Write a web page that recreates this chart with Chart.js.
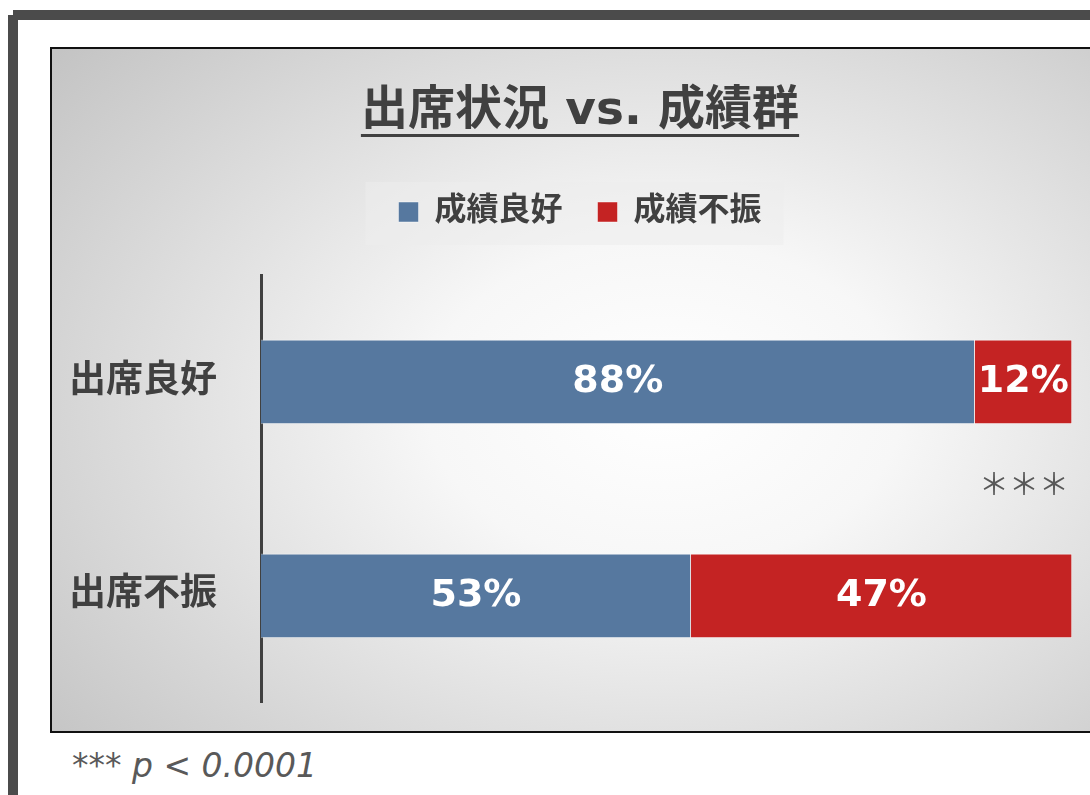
<!DOCTYPE html>
<html>
<head>
<meta charset="utf-8">
<script src="https://cdn.jsdelivr.net/npm/chart.js@4.4.0/dist/chart.umd.min.js"></script>
<style>
  html, body { margin: 0; padding: 0; background: #fff; width: 1090px; height: 795px; overflow: hidden; }
  .frameTop { position: absolute; left: 13px; top: 10px; width: 1100px; height: 10px; background: #4b4b4b; }
  .frameLeft { position: absolute; left: 8px; top: 15px; width: 10px; height: 800px; background: #4b4b4b; }
  #chartBox {
    position: absolute; left: 50px; top: 47px; width: 1056px; height: 682px;
    border: 2px solid #111;
    background: radial-gradient(ellipse 75% 80% at 58% 52%, #ffffff 0%, #f7f7f7 30%, #c4c4c4 100%);
  }
  #chartBox canvas { position: absolute; left: 0; top: 0; }
  .note {
    position: absolute; left: 72px; top: 746px; line-height: 40px;
    font-family: 'DejaVu Sans', sans-serif; font-style: italic; font-size: 33px; color: #595959;
  }
</style>
</head>
<body>
<div class="frameTop"></div>
<div class="frameLeft"></div>
<div id="chartBox"><canvas id="attendChart" width="1056" height="682"></canvas></div>
<div class="note">*** p &lt; 0.0001</div>
<script>
const categories = ['出席良好', '出席不振'];
const seriesNames = ['成績良好', '成績不振'];
const goodGrades = [88, 53];
const poorGrades = [12, 47];
const significance = '＊＊＊';

const textColor = '#404040';
const cjk = "'DejaVu Sans', 'Noto Sans CJK JP', sans-serif";

// underline under the title
const titleUnderline = {
  id: 'titleUnderline',
  afterDraw(chart) {
    const t = chart.titleBlock;
    const ctx = chart.ctx;
    ctx.save();
    ctx.font = 'bold 47px ' + cjk;
    const w = ctx.measureText(chart.options.plugins.title.text).width;
    const cx = (t.left + t.right) / 2;
    ctx.fillStyle = textColor;
    ctx.fillRect(cx - w / 2, 85, w, 3);
    ctx.restore();
  }
};

// pale box behind legend + extra gap under it
const legendBox = {
  id: 'legendBox',
  beforeInit(chart) {
    const fit = chart.legend.fit;
    chart.legend.fit = function () {
      fit.bind(chart.legend)();
      this.height += 37;
    };
  },
  beforeDraw(chart) {
    const hb = chart.legend.legendHitBoxes;
    if (!hb || !hb.length) return;
    const last = hb[hb.length - 1];
    const left = hb[0].left - 33;
    const right = last.left + last.width + 22;
    const top = hb[0].top + 16 - 30;
    const ctx = chart.ctx;
    ctx.save();
    ctx.fillStyle = 'rgba(236,236,236,0.55)';
    ctx.fillRect(left, top, right - left, 63);
    ctx.restore();
  }
};

// percentage labels inside bars and the *** marker
const barLabels = {
  id: 'barLabels',
  afterDatasetsDraw(chart) {
    const ctx = chart.ctx;
    ctx.save();
    ctx.font = 'bold 38px "DejaVu Sans", sans-serif';
    ctx.fillStyle = '#ffffff';
    ctx.textAlign = 'center';
    ctx.textBaseline = 'middle';
    chart.data.datasets.forEach((ds, i) => {
      chart.getDatasetMeta(i).data.forEach((bar, j) => {
        ctx.fillText(ds.data[j] + '%', (bar.x + bar.base) / 2, bar.y);
      });
    });
    const xs = chart.scales.x, ys = chart.scales.y;
    ctx.font = '30px "Noto Sans CJK JP", sans-serif';
    ctx.fillStyle = '#595959';
    ctx.textAlign = 'right';
    ctx.fillText(significance, xs.getPixelForValue(100) - 3, ys.getPixelForValue(0.5) - 5);
    ctx.restore();
  }
};

new Chart(document.getElementById('attendChart').getContext('2d'), {
  type: 'bar',
  data: {
    labels: categories,
    datasets: [
      {
        label: seriesNames[0],
        data: goodGrades,
        backgroundColor: '#56789f',
        borderColor: 'rgba(255,255,255,0.45)',
        borderWidth: 1,
        barThickness: 84,
      },
      {
        label: seriesNames[1],
        data: poorGrades,
        backgroundColor: '#c42323',
        borderColor: 'rgba(255,255,255,0.45)',
        borderWidth: 1,
        barThickness: 84,
      },
    ],
  },
  options: {
    indexAxis: 'y',
    responsive: false,
    animation: false,
    layout: { padding: { left: 0, right: 0, top: 0, bottom: 28 } },
    scales: {
      x: { stacked: true, min: 0, max: 100, display: false },
      y: {
        stacked: true,
        grid: { display: false, drawTicks: true, tickLength: 38 },
        border: { display: true, color: textColor, width: 3 },
        ticks: { color: textColor, padding: 6, font: { family: cjk, size: 37, weight: 'bold' } },
        afterFit(scale) { scale.width = 209; },
      },
      // empty spacer on the right so the chart area ends where the bars end
      yRight: {
        position: 'right',
        grid: { display: false, drawTicks: false },
        border: { display: false },
        ticks: { display: false },
        afterFit(scale) { scale.width = 36; },
      },
    },
    plugins: {
      title: {
        display: true,
        text: '出席状況 vs. 成績群',
        color: textColor,
        font: { family: cjk, size: 47, weight: 'bold' },
        padding: { top: 35, bottom: 20.6 },
      },
      legend: {
        display: true,
        labels: {
          color: textColor,
          boxWidth: 20,
          boxHeight: 20,
          padding: 35,
          font: { family: cjk, size: 32, weight: 'bold' },
        },
      },
      tooltip: { enabled: false },
    },
  },
  plugins: [titleUnderline, legendBox, barLabels],
});
</script>
</body>
</html>
